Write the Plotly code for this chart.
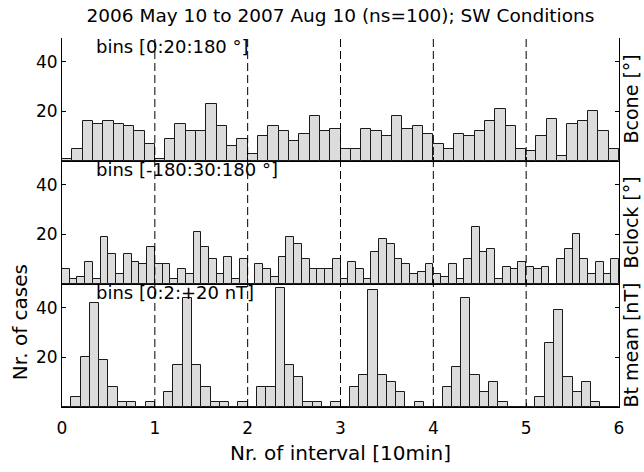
import plotly.graph_objects as go

# ---- data (counts per 10-min interval) ----
intervals = [0, 1, 2, 3, 4, 5]
bcone_bins = 9      # bins [0:20:180 deg]
bclock_bins = 12    # bins [-180:30:180 deg]
bt_bins = 10        # bins [0:2:+20 nT]

bcone_counts = [
    [1, 5, 16, 15, 16, 15, 14, 12, 7],
    [1, 9, 15, 12, 12, 23, 14, 6, 9],
    [3, 10, 14, 12, 8, 11, 18, 12, 13],
    [5, 5, 13, 12, 10, 18, 13, 14, 11],
    [7, 5, 11, 10, 12, 16, 21, 14, 5],
    [4, 10, 17, 2, 15, 16, 20, 12, 5],
]
bclock_counts = [
    [6, 2, 3, 9, 2, 19, 12, 4, 12, 9, 8, 15],
    [8, 8, 2, 6, 4, 21, 15, 10, 4, 11, 2, 10],
    [0, 8, 6, 3, 11, 19, 16, 10, 6, 6, 6, 10],
    [2, 9, 6, 2, 13, 18, 16, 10, 8, 4, 5, 8],
    [4, 3, 8, 2, 10, 23, 13, 14, 2, 7, 6, 9],
    [7, 6, 7, 0, 10, 14, 20, 10, 4, 9, 4, 10],
]
bt_counts = [
    [0, 4, 20, 42, 19, 8, 2, 2, 0, 2],
    [0, 6, 17, 44, 17, 8, 2, 2, 0, 2],
    [0, 8, 8, 48, 17, 12, 2, 2, 0, 2],
    [0, 8, 13, 47, 13, 10, 6, 0, 2, 0],
    [0, 8, 16, 44, 13, 6, 10, 2, 0, 0],
    [0, 4, 26, 39, 12, 6, 10, 2, 0, 0],
]
panel_labels = ["Bcone [°]", "Bclock [°]", "Bt mean [nT]"]
bin_texts = ["bins [0:20:180 °]", "bins [-180:30:180 °]", "bins [0:2:+20 nT]"]
x_ticks = [0, 1, 2, 3, 4, 5, 6]
y_ticks = [20, 40]
title = "2006 May 10 to 2007 Aug 10 (ns=100); SW Conditions"

FONT = "DejaVu Sans"
BAR_FILL = "#dcdcdc"
BAR_EDGE = "#1a1a1a"

fig = go.Figure()

panels = [
    (bcone_counts, bcone_bins, "x", "y"),
    (bclock_counts, bclock_bins, "x2", "y2"),
    (bt_counts, bt_bins, "x3", "y3"),
]
for counts, nb, xa, ya in panels:
    xs, ys = [], []
    for k, row in zip(intervals, counts):
        for i, c in enumerate(row):
            xs.append(k + (i + 0.5) / nb)
            ys.append(c)
    fig.add_trace(go.Bar(
        x=xs, y=ys, width=1.0 / nb, xaxis=xa, yaxis=ya,
        marker=dict(color=BAR_FILL, line=dict(color=BAR_EDGE, width=1)),
        showlegend=False, hoverinfo="skip"))

domains = [[2/3, 1.0], [1/3, 2/3], [0.0, 1/3]]
yrange = [0, 49.6]

axis_common = dict(showline=True, linecolor="black", linewidth=1,
                   showgrid=False, zeroline=False, ticks="inside",
                   ticklen=4, tickcolor="black")
layout = dict(
    width=644, height=472,
    margin=dict(l=62, r=25, t=38, b=62),
    paper_bgcolor="white", plot_bgcolor="white",
    bargap=0, barmode="overlay",
    font=dict(family=FONT, size=17, color="black"),
    showlegend=False,
)
for idx, (dom, xname, yname) in enumerate(zip(domains, ["xaxis", "xaxis2", "xaxis3"],
                                              ["yaxis", "yaxis2", "yaxis3"])):
    ysuffix = "" if idx == 0 else str(idx + 1)
    xsuffix = ysuffix
    layout[xname] = dict(axis_common, range=[0, 6], tickvals=x_ticks,
                         anchor="y" + ysuffix, mirror=False,
                         showticklabels=(idx == 2),
                         ticklabelstandoff=6,
                         tickfont=dict(size=17))
    if idx < 2:
        layout[xname]["matches"] = "x3"
    layout[yname] = dict(axis_common, range=yrange, domain=dom,
                         tickvals=y_ticks, anchor="x" + xsuffix,
                         mirror="ticks", tickfont=dict(size=17))

layout["title"] = dict(text=title, x=0.5, xref="paper", xanchor="center",
                       y=0.968, yanchor="middle",
                       font=dict(family=FONT, size=18.5))
layout["xaxis3"]["title"] = dict(text="Nr. of interval [10min]",
                                 font=dict(size=20), standoff=8)
fig.update_layout(**layout)

# dashed separators between intervals
for k in intervals[1:]:
    fig.add_shape(type="line", xref="x3", yref="paper", x0=k, x1=k, y0=0, y1=1,
                  line=dict(color="black", width=1, dash="8px,4px"), layer="above")

annotations = []
for idx, dom in enumerate(domains):
    yc = (dom[0] + dom[1]) / 2
    annotations.append(dict(text=panel_labels[idx], xref="paper", yref="paper",
                            x=1, y=yc, xanchor="center", yanchor="middle",
                            xshift=11, textangle=-90, showarrow=False,
                            font=dict(size=19)))
    annotations.append(dict(text=bin_texts[idx], xref="paper", yref="paper",
                            x=0.057, y=dom[1], xanchor="left", yanchor="top",
                            yshift=4, showarrow=False, font=dict(size=18)))
annotations.append(dict(text="Nr. of cases", xref="paper", yref="paper",
                        x=0, y=0.23, xanchor="center", yanchor="middle",
                        xshift=-42, textangle=-90, showarrow=False,
                        font=dict(size=20)))
fig.update_layout(annotations=annotations)

fig.write_html("out.html")
